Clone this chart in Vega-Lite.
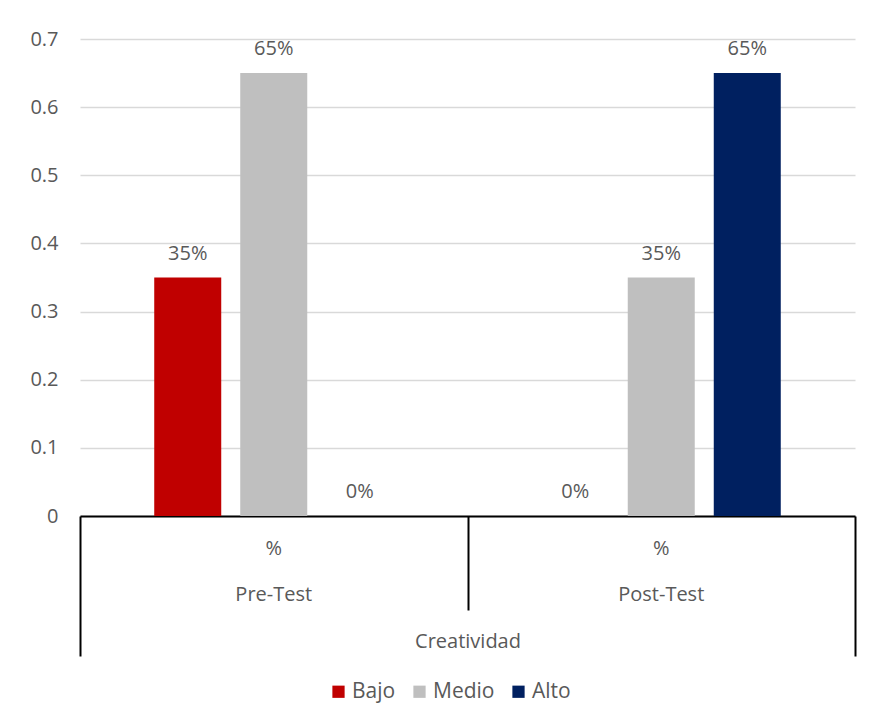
{
  "$schema": "https://vega.github.io/schema/vega-lite/v6.json",
  "width": 775,
  "height": 477,
  "autosize": "none",
  "padding": {"left": 80, "top": 39, "right": 18, "bottom": 207},
  "background": "white",
  "config": {"view": {"stroke": null}, "font": "Open Sans"},
  "data": {"values": [
    {"test": "Pre-Test", "nivel": "Bajo", "pct": 0.35},
    {"test": "Pre-Test", "nivel": "Medio", "pct": 0.65},
    {"test": "Pre-Test", "nivel": "Alto", "pct": 0},
    {"test": "Post-Test", "nivel": "Bajo", "pct": 0},
    {"test": "Post-Test", "nivel": "Medio", "pct": 0.35},
    {"test": "Post-Test", "nivel": "Alto", "pct": 0.65}
  ]},
  "layer": [
    {
      "mark": {"type": "bar"},
      "encoding": {
        "x": {"field": "test", "type": "nominal", "sort": ["Pre-Test", "Post-Test"],
              "scale": {"paddingInner": 0, "paddingOuter": 0},
              "axis": {"orient": "bottom", "title": null, "labels": false, "grid": false,
                       "domain": true, "domainColor": "#000000", "domainWidth": 2,
                       "ticks": true, "tickBand": "extent", "tickColor": "#000000", "tickWidth": 2,
                       "tickSize": {"condition": {"test": "datum.index === 0", "value": 94}, "value": 140}}},
        "xOffset": {"field": "nivel", "type": "nominal", "sort": ["Bajo", "Medio", "Alto"],
                    "scale": {"paddingInner": 0.221, "paddingOuter": 0.863}},
        "y": {"field": "pct", "type": "quantitative",
              "scale": {"domain": [0, 0.7], "nice": false},
              "axis": {"title": null, "values": [0, 0.1, 0.2, 0.3, 0.4, 0.5, 0.6, 0.7], "format": "~g",
                       "domain": false, "ticks": false, "grid": true, "gridColor": "#D9D9D9", "gridWidth": 1.3,
                       "labelFontSize": 20, "labelColor": "#595959", "labelPadding": 22}},
        "color": {"field": "nivel", "type": "nominal", "sort": ["Bajo", "Medio", "Alto"],
                  "scale": {"domain": ["Bajo", "Medio", "Alto"], "range": ["#C00000", "#BFBFBF", "#002060"]},
                  "legend": {"title": null, "orient": "none", "legendX": 248, "legendY": 642, "direction": "horizontal",
                             "symbolType": "square", "symbolSize": 150, "symbolStrokeWidth": 0,
                             "labelFontSize": 21, "labelColor": "#595959", "columnPadding": 13,
                             "labelOffset": 3}}
      }
    },
    {
      "mark": {"type": "text", "baseline": "alphabetic", "dy": -18, "fontSize": 20, "color": "#595959"},
      "encoding": {
        "x": {"field": "test", "type": "nominal", "sort": ["Pre-Test", "Post-Test"],
              "axis": {"orient": "bottom", "title": "Creatividad", "titleFontSize": 20, "titleFontWeight": "normal",
                       "titleColor": "#595959", "titlePadding": 27, "ticks": false, "domain": false, "grid": false,
                       "labelExpr": "['%', datum.label]", "labelLineHeight": 46, "labelBaseline": "top",
                       "labelPadding": 22, "labelFontSize": 20, "labelColor": "#595959", "labelAngle": 0}},
        "xOffset": {"field": "nivel", "type": "nominal", "sort": ["Bajo", "Medio", "Alto"]},
        "y": {"field": "pct", "type": "quantitative"},
        "text": {"field": "pct", "type": "quantitative", "format": ".0%"}
      }
    }
  ],
  "resolve": {"axis": {"x": "independent"}}
}
